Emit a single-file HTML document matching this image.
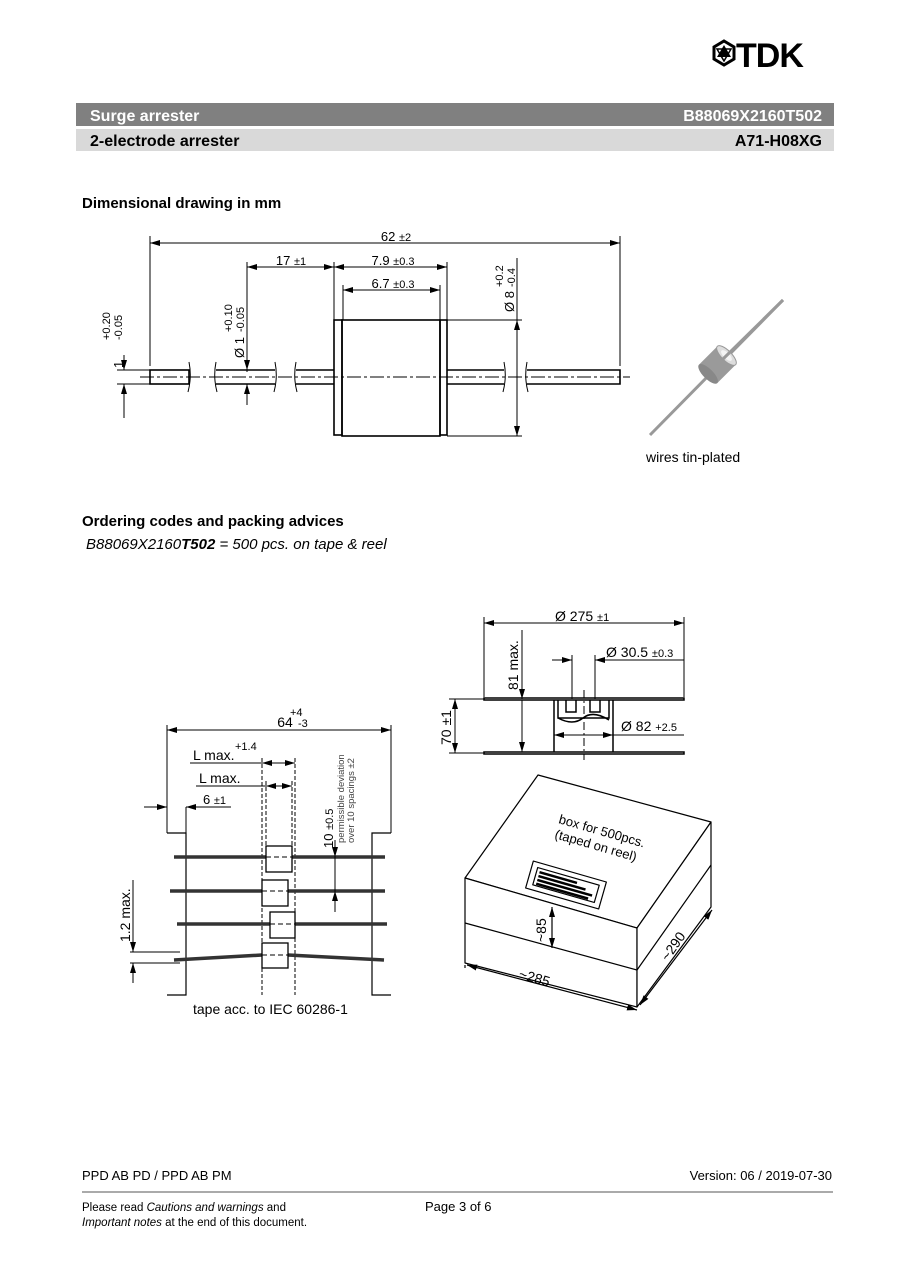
<!DOCTYPE html>
<html><head><meta charset="utf-8"><style>
html,body{margin:0;padding:0;background:#fff}
svg{display:block}
text{font-family:"Liberation Sans",sans-serif}
.d{font-family:"DejaVu Sans","Liberation Sans",sans-serif;font-size:13px}
</style></head><body>
<svg width="900" height="1273" viewBox="0 0 900 1273" xmlns="http://www.w3.org/2000/svg">
<defs>
<marker id="a" viewBox="0 0 10 6" refX="10" refY="3" markerWidth="10" markerHeight="6" markerUnits="userSpaceOnUse" orient="auto-start-reverse"><path d="M0,0L10,3L0,6z" fill="#000"/></marker>
</defs>
<!-- logo -->
<g transform="translate(712,41)">
<polygon points="12,0 22,6 22,18 12,24 2,18 2,6" fill="none" stroke="#000" stroke-width="3"/>
<polygon points="12,4 19,16 5,16" fill="#000"/>
<polygon points="12,20 19,8 5,8" fill="none" stroke="#000" stroke-width="1.5"/>
</g>
<text x="736" y="67" font-size="34" font-weight="bold" letter-spacing="-1">TDK</text>
<!-- header bars -->
<rect x="76" y="103" width="758" height="23" fill="#808080"/>
<rect x="76" y="129" width="758" height="22" fill="#d9d9d9"/>
<text x="90" y="121" font-size="16" font-weight="bold" fill="#fff">Surge arrester</text>
<text x="822" y="121" font-size="16" font-weight="bold" fill="#fff" text-anchor="end">B88069X2160T502</text>
<text x="90" y="146" font-size="16" font-weight="bold">2-electrode arrester</text>
<text x="822" y="146" font-size="16" font-weight="bold" text-anchor="end">A71-H08XG</text>
<text x="82" y="208" font-size="15" font-weight="bold">Dimensional drawing in mm</text>
<text x="82" y="526" font-size="15" font-weight="bold">Ordering codes and packing advices</text>
<text x="86" y="549" font-size="15" font-style="italic">B88069X2160<tspan font-weight="bold">T502</tspan> = 500 pcs. on tape &amp; reel</text>

<!-- top drawing -->
<g stroke="#000" stroke-width="1" fill="none">
<line x1="150" y1="236" x2="150" y2="366"/><line x1="620" y1="236" x2="620" y2="366"/>
<line x1="150" y1="243" x2="620" y2="243" marker-start="url(#a)" marker-end="url(#a)"/>
<line x1="247" y1="262" x2="247" y2="372"/><line x1="334" y1="262" x2="334" y2="320"/><line x1="447" y1="262" x2="447" y2="320"/><line x1="343" y1="285" x2="343" y2="320"/><line x1="440" y1="285" x2="440" y2="320"/>
<line x1="247" y1="267" x2="334" y2="267" marker-start="url(#a)" marker-end="url(#a)"/>
<line x1="334" y1="267" x2="447" y2="267" marker-start="url(#a)" marker-end="url(#a)"/>
<line x1="343" y1="290" x2="440" y2="290" marker-start="url(#a)" marker-end="url(#a)"/>
<line x1="447" y1="320" x2="522" y2="320"/><line x1="447" y1="436" x2="522" y2="436"/>
<line x1="517" y1="258" x2="517" y2="436"/>
<line x1="517" y1="320" x2="517" y2="436" marker-start="url(#a)" marker-end="url(#a)"/>
<line x1="117" y1="370" x2="150" y2="370"/><line x1="117" y1="384" x2="150" y2="384"/>
<line x1="124" y1="355" x2="124" y2="370" marker-end="url(#a)"/><line x1="124" y1="418" x2="124" y2="384" marker-end="url(#a)"/>
<line x1="247" y1="350" x2="247" y2="370" marker-end="url(#a)"/><line x1="247" y1="405" x2="247" y2="384" marker-end="url(#a)"/>
<g stroke-width="1.6">
<rect x="150" y="370" width="39" height="14"/>
<path d="M216,370H275M216,384H275M296,370H334M296,384H334M447,370H504M447,384H504M527,370H620V384H527"/>
<rect x="334" y="320" width="8" height="115"/><rect x="342" y="320" width="98" height="116"/><rect x="440" y="320" width="7" height="115"/>
</g>
<g stroke-width="1"><path d="M189,362q3,15 -1,30M216,362q-3,15 1,30M275,362q3,15 -1,30M296,362q-3,15 1,30M504,362q3,15 -1,30M527,362q-3,15 1,30"/></g>
<line x1="140" y1="377" x2="630" y2="377" stroke-dasharray="14,3,3,3"/>
</g>
<g class="d" font-size="13">
<text x="396" y="241" text-anchor="middle">62 <tspan font-size="11">±2</tspan></text>
<text x="291" y="265" text-anchor="middle">17 <tspan font-size="11">±1</tspan></text>
<text x="393" y="265" text-anchor="middle">7.9 <tspan font-size="11">±0.3</tspan></text>
<text x="393" y="288" text-anchor="middle">6.7 <tspan font-size="11">±0.3</tspan></text>
<text transform="translate(123,368) rotate(-90)">1</text>
<text transform="translate(110,340) rotate(-90)" font-size="11">+0.20</text>
<text transform="translate(122,340) rotate(-90)" font-size="11">-0.05</text>
<text transform="translate(244,358) rotate(-90)">Ø 1</text>
<text transform="translate(232,332) rotate(-90)" font-size="11">+0.10</text>
<text transform="translate(244,332) rotate(-90)" font-size="11">-0.05</text>
<text transform="translate(514,312) rotate(-90)">Ø 8</text>
<text transform="translate(503,287) rotate(-90)" font-size="11">+0.2</text>
<text transform="translate(515,287) rotate(-90)" font-size="11">-0.4</text>
<text x="646" y="462" font-size="14">wires tin-plated</text>
</g>
<!-- photo -->
<line x1="650" y1="435" x2="783" y2="300" stroke="#999" stroke-width="3"/>
<g transform="translate(718,364) rotate(-45)">
<rect x="-14" y="-13" width="26" height="26" fill="#9a9a9a"/>
<ellipse cx="-14" cy="0" rx="5" ry="13" fill="#888"/>
<ellipse cx="12" cy="0" rx="5" ry="13" fill="#ddd" stroke="#999"/>
<ellipse cx="12" cy="0" rx="3" ry="7" fill="#f4f4f4"/>
</g>
<line x1="722" y1="360" x2="783" y2="300" stroke="#999" stroke-width="3"/>

<!-- tape drawing -->
<g stroke="#000" fill="none" stroke-width="1">
<line x1="167" y1="725" x2="167" y2="833"/><line x1="391" y1="725" x2="391" y2="833"/>
<line x1="167" y1="730" x2="391" y2="730" marker-start="url(#a)" marker-end="url(#a)"/>
<line x1="190" y1="763" x2="262" y2="763"/><line x1="262" y1="763" x2="295" y2="763" marker-start="url(#a)" marker-end="url(#a)"/>
<line x1="196" y1="786" x2="266" y2="786"/><line x1="266" y1="786" x2="292" y2="786" marker-start="url(#a)" marker-end="url(#a)"/>
<line x1="144" y1="807" x2="167" y2="807" marker-end="url(#a)"/><line x1="231" y1="807" x2="186" y2="807" marker-end="url(#a)"/>
<line x1="186" y1="807" x2="186" y2="833"/>
<g stroke-dasharray="4,2"><line x1="262" y1="758" x2="262" y2="995"/><line x1="295" y1="758" x2="295" y2="995"/><line x1="266" y1="781" x2="266" y2="850"/><line x1="292" y1="781" x2="292" y2="850"/></g>
<path d="M167,833H186V995H167M391,833H372V995H391" stroke-width="1.2"/>
<g stroke-width="3.5" stroke="#333"><line x1="174" y1="857" x2="385" y2="857"/><line x1="170" y1="891" x2="385" y2="891"/><line x1="177" y1="924" x2="387" y2="924"/><path d="M174,960L262,955M288,955L384,960"/></g>
<g stroke-width="1.3" fill="#fff"><rect x="266" y="846" width="26" height="26"/><rect x="262" y="880" width="26" height="26"/><rect x="270" y="912" width="25" height="26"/><rect x="262" y="943" width="26" height="25"/></g>
<g stroke-dasharray="5,3"><path d="M266,857H292M262,891H288M270,924H295M262,955H288"/></g>
<line x1="335" y1="840" x2="335" y2="857" marker-end="url(#a)"/><line x1="335" y1="912" x2="335" y2="891" marker-end="url(#a)"/><line x1="335" y1="857" x2="335" y2="891"/>
<line x1="133" y1="880" x2="133" y2="952" marker-end="url(#a)"/><line x1="133" y1="983" x2="133" y2="963" marker-end="url(#a)"/>
<line x1="130" y1="952" x2="180" y2="952"/><line x1="130" y1="963" x2="180" y2="963"/>
</g>
<g class="d">
<text x="285" y="727" text-anchor="middle" font-size="14">64</text>
<text x="290" y="716" font-size="11">+4</text><text x="298" y="727" font-size="11">-3</text>
<text x="193" y="760" font-size="14">L max.</text><text x="235" y="750" font-size="11">+1.4</text>
<text x="199" y="783" font-size="14">L max.</text>
<text x="203" y="804" font-size="13">6 <tspan font-size="11">±1</tspan></text>
<text transform="translate(333,848) rotate(-90)" font-size="13">10 <tspan font-size="11">±0.5</tspan></text>
<text transform="translate(344,843) rotate(-90)" font-size="9.5" fill="#444">permissible deviation</text>
<text transform="translate(354,843) rotate(-90)" font-size="9.5" fill="#444">over 10 spacings ±2</text>
<text transform="translate(130,942) rotate(-90)" font-size="14">1.2 max.</text>
<text x="193" y="1014" font-size="14">tape acc. to IEC 60286-1</text>
</g>

<!-- reel -->
<g stroke="#000" fill="none" stroke-width="1">
<line x1="484" y1="617" x2="484" y2="697"/><line x1="684" y1="617" x2="684" y2="697"/>
<line x1="484" y1="623" x2="684" y2="623" marker-start="url(#a)" marker-end="url(#a)"/>
<line x1="572" y1="655" x2="572" y2="699"/><line x1="595" y1="655" x2="595" y2="699"/>
<line x1="552" y1="660" x2="572" y2="660" marker-end="url(#a)"/><line x1="684" y1="660" x2="595" y2="660" marker-end="url(#a)"/>
<g stroke-width="1.5"><rect x="484" y="698" width="200" height="2"/><rect x="484" y="752" width="200" height="2"/>
<path d="M554,700V752M613,700V752M558,700V718H609V700M558,718q15,8 25,0t26,2"/><path d="M566,700V712H576V700M590,700V712H600V700"/></g>
<line x1="584" y1="690" x2="584" y2="760" stroke-dasharray="8,3,2,3"/>
<line x1="522" y1="630" x2="522" y2="699" marker-end="url(#a)"/><line x1="522" y1="700" x2="522" y2="752" marker-end="url(#a)"/>
<line x1="449" y1="699" x2="484" y2="699"/><line x1="449" y1="753" x2="484" y2="753"/>
<line x1="455" y1="699" x2="455" y2="753" marker-start="url(#a)" marker-end="url(#a)"/>
<line x1="554" y1="735" x2="613" y2="735" marker-start="url(#a)" marker-end="url(#a)"/><line x1="613" y1="735" x2="684" y2="735"/>
</g>
<g class="d">
<text x="555" y="621" font-size="14">Ø 275 <tspan font-size="11">±1</tspan></text>
<text x="606" y="657" font-size="14">Ø 30.5 <tspan font-size="11">±0.3</tspan></text>
<text x="621" y="731" font-size="14">Ø 82 <tspan font-size="11">+2.5</tspan></text>
<text transform="translate(518,690) rotate(-90)" font-size="14">81 max.</text>
<text transform="translate(451,745) rotate(-90)" font-size="14">70 ±1</text>
</g>

<!-- box -->
<g stroke="#000" stroke-width="1.2" fill="#fff" stroke-linejoin="round">
<polygon points="538,775 711,822 637,928 465,878"/>
<polygon points="465,878 637,928 637,1007 465,963"/>
<polygon points="637,928 711,822 711,907 637,1007"/>
<path d="M465,923L637,970L711,865" fill="none"/>
<g transform="translate(566,885) rotate(16)"><rect x="-38" y="-14" width="76" height="28"/><rect x="-32" y="-9" width="64" height="18" fill="none"/>
<path d="M-29,-5H10M-29,-1H20M-29,3H28M-29,7H25" stroke-width="2.5"/></g>
<line x1="552" y1="907" x2="552" y2="948" marker-start="url(#a)" marker-end="url(#a)"/>
<line x1="465" y1="965" x2="465" y2="968"/>
<line x1="467" y1="965" x2="637" y2="1010" marker-start="url(#a)" marker-end="url(#a)"/>
<line x1="640" y1="1005" x2="712" y2="910" marker-start="url(#a)" marker-end="url(#a)"/>
</g>
<g class="d">
<text transform="translate(558,823) rotate(16)" font-size="13">box for 500pcs.</text>
<text transform="translate(554,838) rotate(16)" font-size="13">(taped on reel)</text>
<text transform="translate(546,942) rotate(-90)" font-size="14">~85</text>
<text transform="translate(518,978) rotate(16)" font-size="14">~285</text>
<text transform="translate(668,962) rotate(-55)" font-size="14">~290</text>
</g>

<!-- footer -->
<text x="82" y="1180" font-size="13">PPD AB PD / PPD AB PM</text>
<text x="832" y="1180" font-size="13" text-anchor="end">Version: 06 / 2019-07-30</text>
<line x1="82" y1="1192" x2="833" y2="1192" stroke="#555" stroke-width="1"/>
<text x="82" y="1211" font-size="11.5">Please read <tspan font-style="italic">Cautions and warnings</tspan> and</text>
<text x="82" y="1226" font-size="11.5"><tspan font-style="italic">Important notes</tspan> at the end of this document.</text>
<text x="425" y="1211" font-size="13">Page 3 of 6</text>
</svg>
</body></html>
